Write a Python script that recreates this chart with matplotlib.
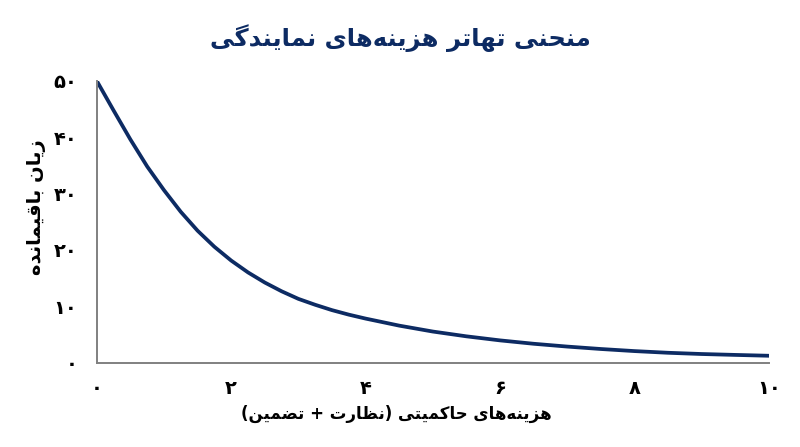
import matplotlib
matplotlib.use("Agg")
import matplotlib.pyplot as plt

# curve values
cost = [0, 0.25, 0.5, 0.75, 1.0, 1.25, 1.5, 1.75, 2.0, 2.25, 2.5, 2.75, 3.0,
        3.25, 3.5, 3.75, 4.0, 4.5, 5.0, 5.5, 6.0, 6.5, 7.0, 7.5, 8.0, 8.5,
        9.0, 9.5, 10.0]
loss = [50, 44.75, 39.6, 34.8, 30.6, 26.75, 23.4, 20.55, 18.1, 16.0, 14.2, 12.65, 11.3,
        10.25, 9.3, 8.5, 7.8, 6.55, 5.5, 4.65, 3.93, 3.33, 2.83, 2.4, 2.03, 1.73,
        1.51, 1.35, 1.2]

x_ticks = [0, 2, 4, 6, 8, 10]
x_tick_labels = ["۰", "۲", "۴", "۶", "۸", "۱۰"]
y_ticks = [0, 10, 20, 30, 40, 50]
y_tick_labels = ["۰", "۱۰", "۲۰", "۳۰", "۴۰", "۵۰"]

title = "منحنی تهاتر هزینه‌های نمایندگی"
x_label = "هزینه‌های حاکمیتی (نظارت + تضمین)"
y_label = "زیان باقیمانده"

# presentation forms: isolated, final, initial, medial (right-joining letters have two)
FORMS = {
    "ا": "\uFE8D\uFE8E",
    "ب": "\uFE8F\uFE90\uFE91\uFE92",
    "ت": "\uFE95\uFE96\uFE97\uFE98",
    "ح": "\uFEA1\uFEA2\uFEA3\uFEA4",
    "د": "\uFEA9\uFEAA",
    "ر": "\uFEAD\uFEAE",
    "ز": "\uFEAF\uFEB0",
    "ض": "\uFEBD\uFEBE\uFEBF\uFEC0",
    "ظ": "\uFEC5\uFEC6\uFEC7\uFEC8",
    "ق": "\uFED5\uFED6\uFED7\uFED8",
    "م": "\uFEE1\uFEE2\uFEE3\uFEE4",
    "ن": "\uFEE5\uFEE6\uFEE7\uFEE8",
    "ه": "\uFEE9\uFEEA\uFEEB\uFEEC",
    "ی": "\uFBFC\uFBFD\uFBFE\uFBFF",
    "ک": "\uFB8E\uFB8F\uFB90\uFB91",
    "گ": "\uFB92\uFB93\uFB94\uFB95",
}
MIRROR = {"(": ")", ")": "("}


def fa(text):
    # join letters and reverse for left-to-right drawing
    out = []
    for i, c in enumerate(text):
        if c == "\u200c":
            continue
        if c not in FORMS:
            out.append(MIRROR.get(c, c))
            continue
        forms = FORMS[c]
        prev = text[i - 1] if i > 0 else ""
        nxt = text[i + 1] if i + 1 < len(text) else ""
        join_prev = prev in FORMS and len(FORMS[prev]) == 4
        join_next = nxt in FORMS and len(forms) == 4
        if join_prev and join_next:
            out.append(forms[3])
        elif join_prev:
            out.append(forms[1])
        elif join_next:
            out.append(forms[2])
        else:
            out.append(forms[0])
    return "".join(reversed(out))


navy = "#0d2b63"

fig = plt.figure(figsize=(8, 4.47), dpi=100)
ax = fig.add_axes([0.121, 0.189, 0.840, 0.630])

ax.plot(cost, loss, color=navy, linewidth=2.7, solid_capstyle="round",
        solid_joinstyle="round")

ax.set_xlim(0, 10)
ax.set_ylim(0, 50)
ax.set_xticks(x_ticks)
ax.set_xticklabels(x_tick_labels, fontsize=14, fontweight="bold")
ax.set_yticks(y_ticks)
ax.set_yticklabels(y_tick_labels, fontsize=14, fontweight="bold")
ax.tick_params(axis="x", length=0, pad=12)
ax.tick_params(axis="y", length=0, pad=14)

for side in ["top", "right"]:
    ax.spines[side].set_visible(False)
for side in ["left", "bottom"]:
    ax.spines[side].set_color("#808080")
    ax.spines[side].set_linewidth(1.4)

ax.set_xlabel(fa(x_label), fontsize=12, fontweight="bold")
ax.xaxis.set_label_coords(0.446, -0.15)
ax.set_ylabel(fa(y_label), fontsize=14, fontweight="bold")
ax.yaxis.set_label_coords(-0.075, 0.553)
fig.suptitle(fa(title), x=0.5, y=0.945, fontsize=17.5, fontweight="bold", color=navy)

fig.savefig("out.png", dpi=100)
